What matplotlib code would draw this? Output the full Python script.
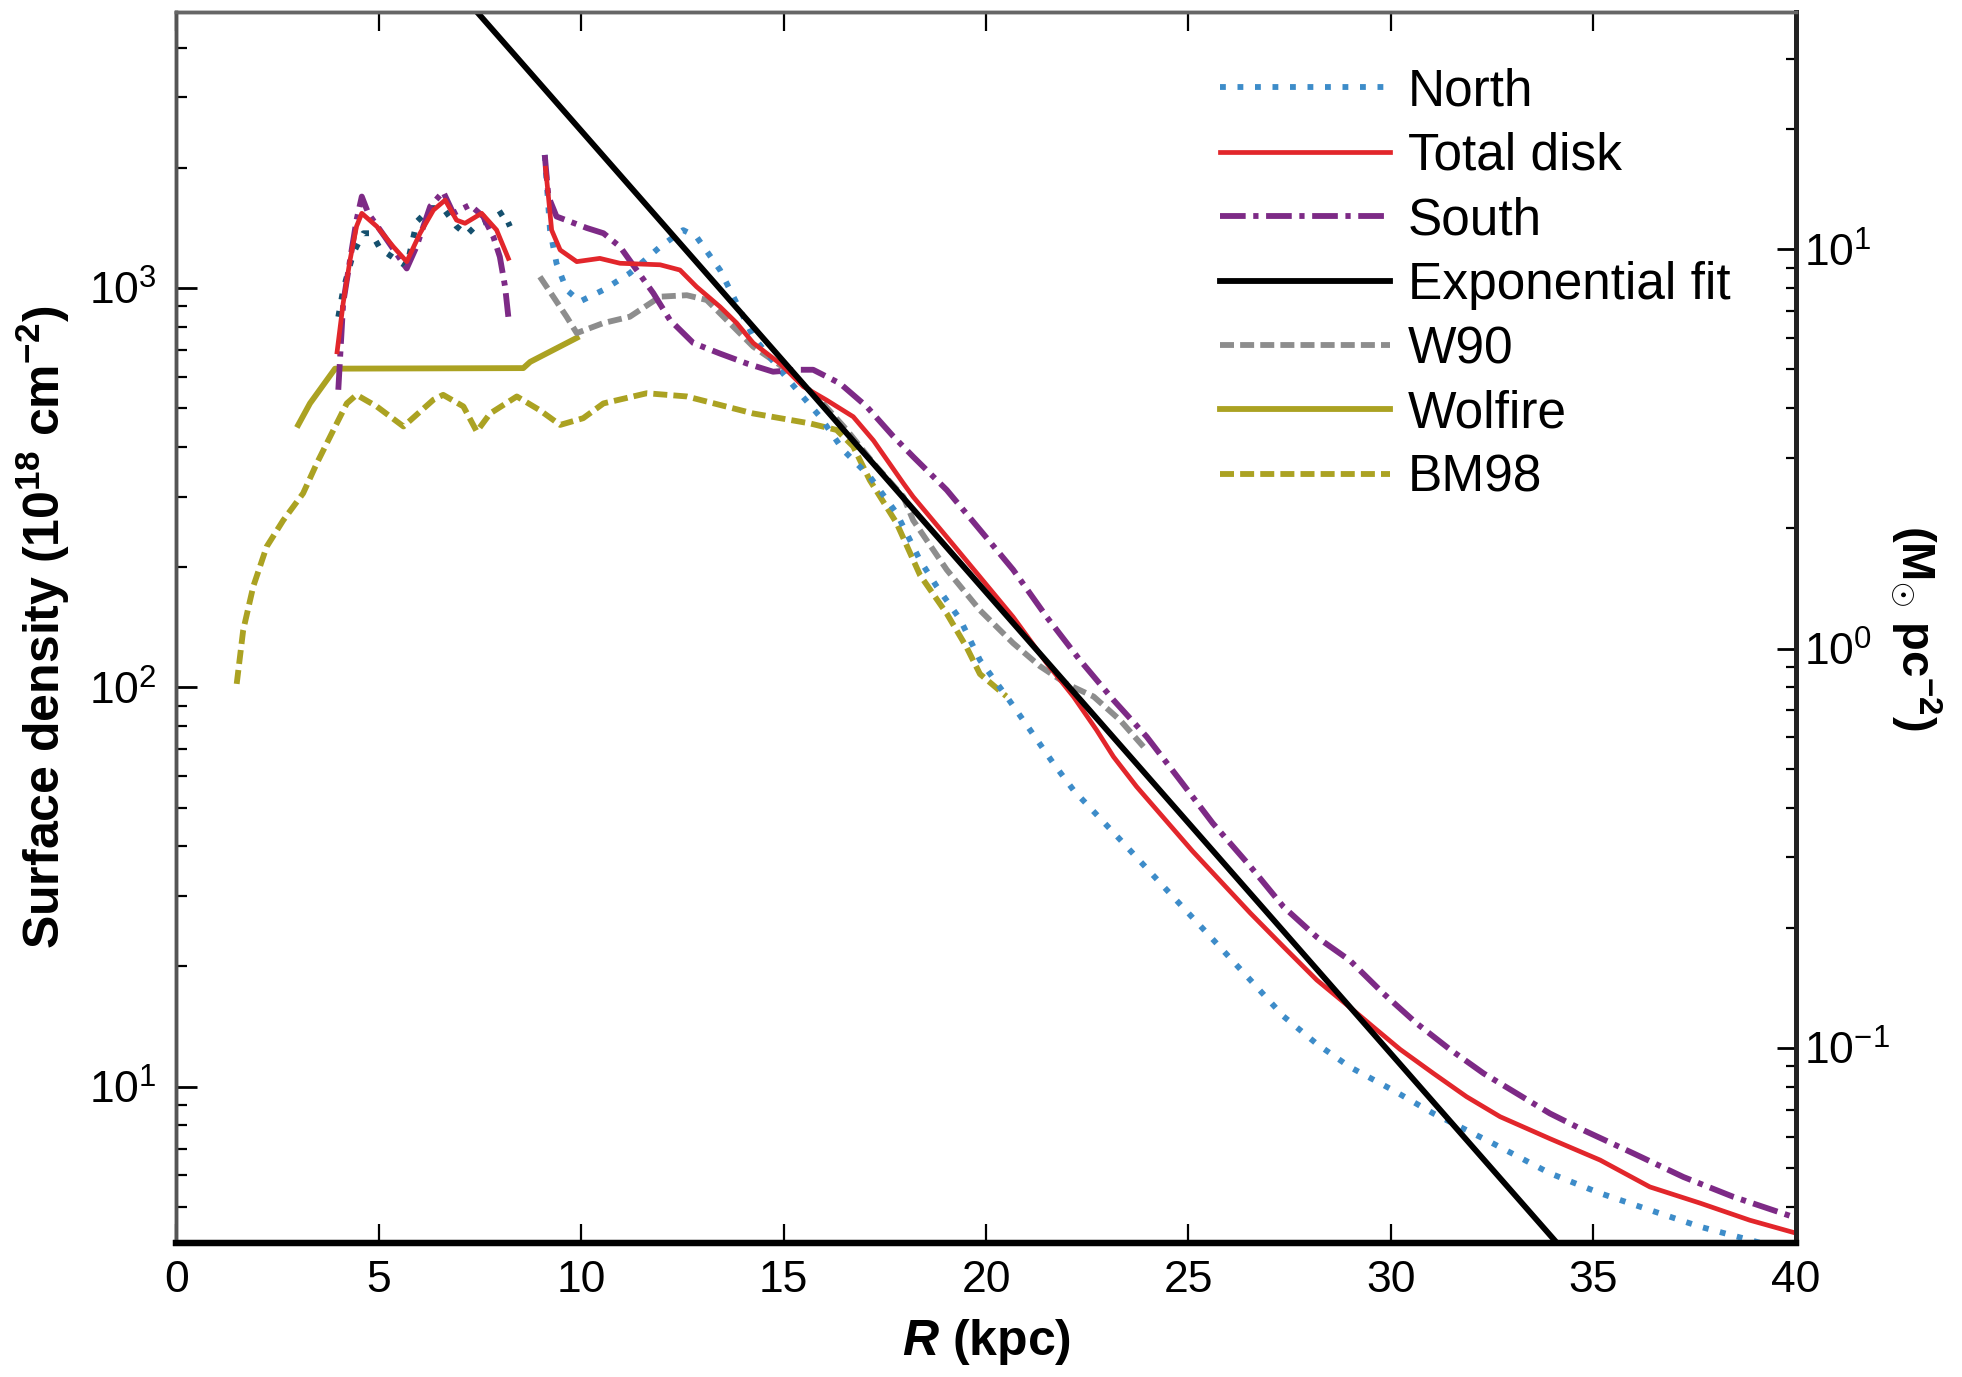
import matplotlib
matplotlib.use('Agg')
import matplotlib.pyplot as plt

plt.rcParams['font.family'] = ['Liberation Sans', 'DejaVu Sans']
plt.rcParams['mathtext.fontset'] = 'custom'
plt.rcParams['mathtext.rm'] = 'Liberation Sans'
plt.rcParams['mathtext.it'] = 'Liberation Sans:italic'
plt.rcParams['mathtext.bf'] = 'Liberation Sans:bold'
plt.rcParams['mathtext.bfit'] = 'Liberation Sans:italic:bold'

# --- datos (R en kpc, densidad en 1e18 cm^-2) ---
R_north_in = [4.0, 4.12, 4.37, 4.62, 4.82, 5.03, 5.44, 5.69, 5.94, 6.27, 6.59, 6.92, 7.17, 7.42, 7.75, 8.08, 8.24]
north_in = [847, 989, 1222, 1371, 1371, 1256, 1175, 1132, 1466, 1585, 1585, 1426, 1358, 1439, 1479, 1552, 1426]

R_north = [9.1, 9.23, 9.39, 9.64, 9.97, 10.55, 11.2, 11.95, 12.52, 12.85, 13.43, 13.76, 14.25, 14.91, 15.4,
           15.9, 16.47, 17.13, 17.79, 18.37, 18.78, 19.36, 19.85, 20.51, 21.09, 21.66, 22.16, 23.3, 24.4,
           25.5, 26.53, 27.35, 28.17, 28.99, 30.06, 31.05, 32.5, 33.93, 35.17, 36.4, 37.64, 38.87, 40.0]
north = [2153, 1396, 1153, 989, 925, 989, 1089, 1268, 1396, 1343, 1109, 951, 755, 624, 545,
         476, 393, 337, 273, 208, 179, 148, 117, 94.8, 78.2, 64.6, 55.3, 41.7, 31.6,
         24.0, 18.5, 15.0, 12.8, 11.2, 9.79, 8.57, 7.23, 6.07, 5.41, 4.91, 4.46, 4.13, 3.85]

R_total_in = [3.97, 4.12, 4.29, 4.45, 4.58, 4.95, 5.36, 5.69, 6.02, 6.35, 6.64, 6.92, 7.13, 7.54, 7.91, 8.20]
total_in = [692, 916, 1175, 1426, 1538, 1426, 1268, 1164, 1371, 1567, 1660, 1479, 1452, 1538, 1397, 1186]

R_total = [9.12, 9.19, 9.27, 9.48, 9.89, 10.46, 10.96, 11.95, 12.44, 12.85, 13.43, 13.84, 14.25, 14.91,
           15.49, 16.06, 16.72, 17.22, 17.96, 18.2, 19.03, 19.85, 20.67, 21.5, 22.16, 22.73,
           23.15, 23.72, 25.1, 26.53, 27.35, 28.17, 28.99, 29.57, 30.23, 31.05, 31.87, 32.7, 33.93,
           35.17, 36.4, 37.64, 38.87, 40.0]
total = [1995, 1694, 1396, 1245, 1164, 1186, 1153, 1143, 1109, 1007, 897, 817, 728, 647,
         566, 524, 476, 415, 324, 300, 238, 189, 150, 115, 94.8, 78.2,
         67.0, 56.4, 38.9, 27.2, 22.4, 18.5, 15.8, 14.1, 12.4, 10.8, 9.44, 8.41, 7.41,
         6.55, 5.61, 5.11, 4.63, 4.30]

R_south_in = [4.0, 4.12, 4.29, 4.45, 4.58, 4.74, 5.15, 5.69, 5.93, 6.27, 6.59, 6.84, 7.25, 7.58, 7.83, 7.99, 8.12, 8.20]
south_in = [556, 916, 1175, 1479, 1694, 1538, 1343, 1119, 1268, 1600, 1742, 1538, 1614, 1510, 1343, 1197, 1007, 847]

R_south = [9.1, 9.19, 9.39, 10.14, 10.55, 10.96, 11.37, 11.78, 12.19, 12.77, 13.43, 14.09, 14.74, 15.32,
           15.73, 16.39, 17.05, 17.71, 18.2, 19.03, 19.85, 20.67, 21.5, 22.32, 23.15, 23.97, 24.79,
           25.6, 26.53, 27.35, 28.17, 28.99, 29.82, 30.64, 31.46, 32.29, 33.11, 33.93, 34.76, 35.99,
           37.23, 38.46, 39.94]
south = [2153, 1694, 1510, 1413, 1371, 1268, 1109, 971, 832, 728, 685, 647, 617, 624,
         624, 577, 505, 425, 378, 312, 248, 197, 150, 117, 92.9, 75.2, 58.6,
         45.7, 35.6, 28.2, 23.7, 20.7, 17.1, 14.4, 12.4, 10.8, 9.62, 8.57, 7.78, 6.81,
         5.94, 5.30, 4.72]

# ajuste exponencial: dos puntos de la recta (en escala log)
R_fit = [7.0, 35.0]
fit = [5500, 3.2]

R_w90 = [8.98, 9.31, 9.64, 9.89, 10.55, 11.2, 11.95, 12.61, 13.1, 13.59, 14.25, 15.08, 15.9, 16.56,
         17.22, 17.96, 18.2, 19.03, 19.85, 20.67, 21.33, 21.99, 22.66, 23.31, 23.89]
w90 = [1067, 951, 847, 771, 817, 847, 951, 959, 933, 832, 713, 624, 524, 441,
       364, 300, 262, 197, 156, 129, 113, 102, 94.8, 82.8, 71.0]

R_wolfire = [3.01, 3.3, 3.92, 8.57, 8.74, 9.89]
wolfire = [454, 514, 628, 630, 653, 750]

R_bm98 = [1.49, 1.65, 1.90, 2.23, 2.64, 3.13, 3.47, 3.88, 4.21, 4.45, 4.95, 5.61, 6.35, 6.59, 7.09,
          7.42, 7.75, 8.41, 8.98, 9.48, 10.05, 10.55, 11.62, 12.61, 14.25, 15.65, 16.31, 16.72,
          17.13, 17.79, 18.37, 19.03, 19.52, 19.85, 20.5]
bm98 = [102, 139, 179, 225, 262, 306, 364, 441, 514, 540, 505, 450, 525, 540, 505,
        437, 485, 535, 494, 454, 472, 514, 545, 535, 485, 458, 441, 401,
        330, 258, 191, 153, 126, 108, 95]

CONV = 125.0  # 1 Msun pc^-2 = 1.25e20 cm^-2
YLIM = (4.06, 4910)

AZUL = '#3d8cc9'
AZUL_OSC = '#15506e'
ROJO = '#e2262b'
MORADO = '#7d2a86'
GRIS = '#8d8d8d'
OLIVA = '#aba222'

PUNTOS = (0, (1, 2.0))
RAYAS = (0, (2.4, 1.05))
RAYA_PUNTO = (0, (4.4, 1.3, 0.9, 1.3))

fig = plt.figure(figsize=(19.62, 13.77), dpi=100)
ax = fig.add_axes([0.0899, 0.0973, 0.8253, 0.894])

ax.plot(R_bm98, bm98, color=OLIVA, lw=4.2, ls=RAYAS, label='BM98', zorder=2)
ax.plot(R_wolfire, wolfire, color=OLIVA, lw=4.2, label='Wolfire', zorder=2)
ax.plot(R_w90, w90, color=GRIS, lw=4.2, ls=RAYAS, label='W90', zorder=3)
ax.plot(R_north_in, north_in, color=AZUL_OSC, lw=4.2, ls=PUNTOS, zorder=3)
ax.plot(R_north, north, color=AZUL, lw=4.2, ls=PUNTOS, label='North', zorder=3)
ax.plot(R_south_in, south_in, color=MORADO, lw=4.2, ls=RAYA_PUNTO, zorder=4)
ax.plot(R_south, south, color=MORADO, lw=4.2, ls=RAYA_PUNTO, label='South', zorder=4)
ax.plot(R_total_in, total_in, color=ROJO, lw=3.4, zorder=5)
ax.plot(R_total, total, color=ROJO, lw=3.4, label='Total disk', zorder=5)
ax.plot(R_fit, fit, color='black', lw=4.2, label='Exponential fit', zorder=6)

ax.set_yscale('log')
ax.set_xlim(0, 40)
ax.set_ylim(*YLIM)
ax.set_xticks(range(0, 41, 5))

ax.tick_params(axis='x', which='both', direction='in', top=True, bottom=True,
               length=14, width=1.6, labelsize=32, pad=12)
ax.tick_params(axis='y', which='major', direction='in', left=True, right=False,
               length=15, width=2.0, labelsize=32, pad=14)
ax.tick_params(axis='y', which='minor', direction='in', left=True, right=False,
               length=8, width=1.6)

ax2 = ax.twinx()
ax2.set_yscale('log')
ax2.set_ylim(YLIM[0] / CONV, YLIM[1] / CONV)
ax2.tick_params(axis='y', which='major', direction='in', length=14, width=2.0,
                labelsize=32, pad=6)
ax2.tick_params(axis='y', which='minor', direction='in', length=7, width=1.6)

for a in (ax, ax2):
    a.spines['bottom'].set_linewidth(4.5)
    a.spines['bottom'].set_color('black')
    a.spines['right'].set_linewidth(3.5)
    a.spines['right'].set_color('#222222')
    a.spines['left'].set_linewidth(2.5)
    a.spines['left'].set_color('#555555')
    a.spines['top'].set_linewidth(2.5)
    a.spines['top'].set_color('#666666')

ax.set_xlabel(r'$\mathbfit{R}$ (kpc)', fontsize=36, fontweight='bold', labelpad=12)
ax.set_ylabel(r'Surface density (10$^{\mathbf{18}}$ cm$^{\mathbf{-2}}$)', fontsize=36,
              fontweight='bold', labelpad=12)
ax2.set_ylabel(r'(M$_{\mathbf{\odot}}$ pc$^{\mathbf{-2}}$)', fontsize=34, fontweight='bold',
               rotation=270, labelpad=38)

orden = ['North', 'Total disk', 'South', 'Exponential fit', 'W90', 'Wolfire', 'BM98']
h, l = ax.get_legend_handles_labels()
d = dict(zip(l, h))
ax.legend([d[k] for k in orden], orden, loc='upper left', bbox_to_anchor=(0.6445, 0.955),
          frameon=False, fontsize=37, borderpad=0, borderaxespad=0, handlelength=3.3,
          handletextpad=0.35, labelspacing=0.30)

fig.savefig('out.png', dpi=100)
